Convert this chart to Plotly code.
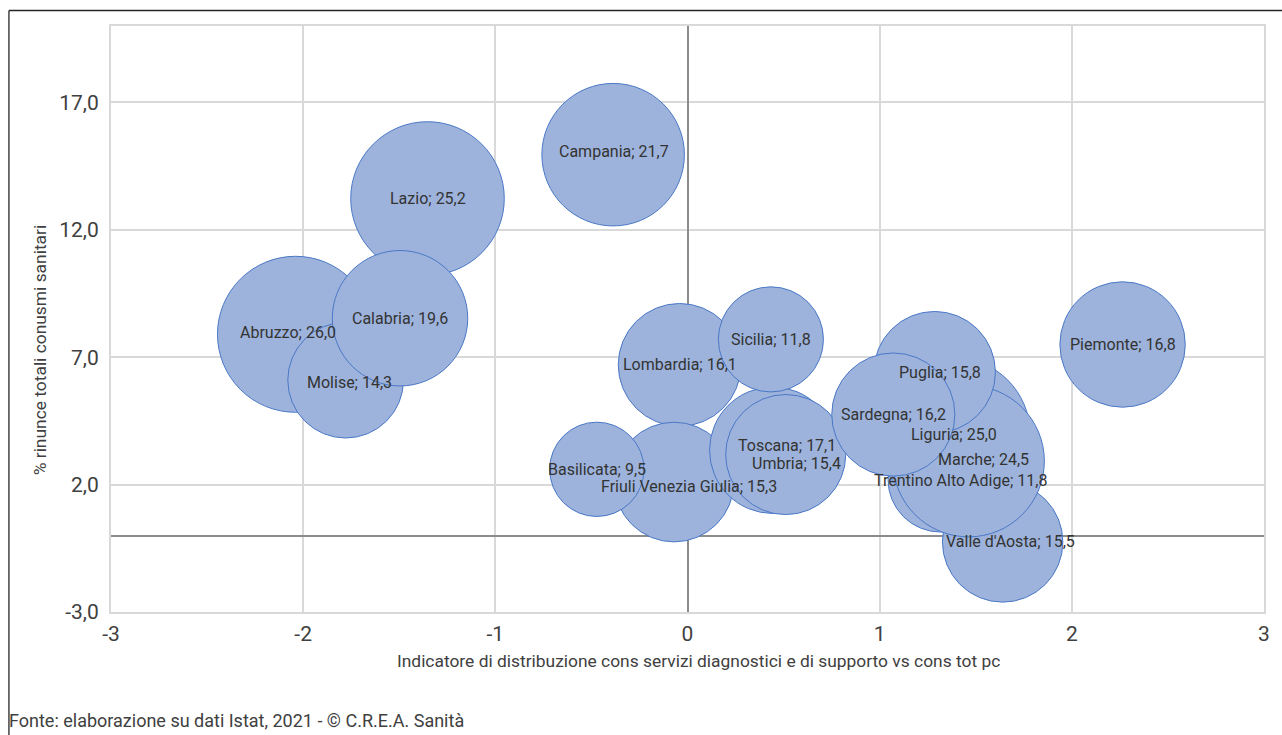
import plotly.graph_objects as go

# Regional data: distribution indicator (x), % renunciations (y), bubble size
regions = [
    "Piemonte", "Valle d'Aosta", "Lombardia", "Trentino Alto Adige",
    "Friuli Venezia Giulia", "Liguria", "Toscana", "Umbria", "Marche",
    "Lazio", "Abruzzo", "Molise", "Campania", "Puglia", "Basilicata",
    "Calabria", "Sicilia", "Sardegna",
]
indicatore = [2.264, 1.64, -0.041, 1.317, -0.07, 1.385, 0.444, 0.511, 1.463,
              -1.353, -2.04, -1.779, -0.387, 1.286, -0.472, -1.496, 0.434, 1.071]
rinunce = [7.50, -0.25, 6.70, 2.20, 2.10, 3.98, 3.35, 3.18, 2.92,
           13.23, 7.90, 6.10, 14.95, 6.41, 2.60, 8.53, 7.70, 4.75]
dimensione = [16.8, 15.5, 16.1, 11.8, 15.3, 25.0, 17.1, 15.4, 24.5,
              25.2, 26.0, 14.3, 21.7, 15.8, 9.5, 19.6, 11.8, 16.2]

x_ticks = [-3, -2, -1, 0, 1, 2, 3]
x_tick_text = ["-3", "-2", "-1", "0", "1", "2", "3"]
y_ticks = [-3, 2, 7, 12, 17]
y_tick_text = ["-3,0", "2,0", "7,0", "12,0", "17,0"]

# Label nudges (pixels) where labels sit off-centre
label_shift = {
    "Toscana": (14, 5), "Umbria": (11, -9), "Trentino Alto Adige": (20, -1),
    "Marche": (15, 2), "Friuli Venezia Giulia": (15, -4), "Abruzzo": (-7, 2),
    "Valle d'Aosta": (8, 0), "Puglia": (5, 0), "Campania": (1, 3),
    "Molise": (4, -2),
}

W, H = 1282, 735
M_L, M_R, M_T, M_B = 111, 13, 26, 123
MAX_DIAM = 156  # px diameter of the largest bubble

FONT = "Roboto, Liberation Sans, sans-serif"
TXT = "#333333"
AX = "#404040"

fig = go.Figure()
fig.add_trace(go.Scatter(
    x=indicatore, y=rinunce, mode="markers",
    marker=dict(
        size=dimensione, sizemode="area",
        sizeref=2.0 * max(dimensione) / MAX_DIAM ** 2,
        color="#9db3dc", opacity=1,
        line=dict(color="#4a78c6", width=1),
    ),
    hoverinfo="skip", showlegend=False,
))

for name, xv, yv, sv in zip(regions, indicatore, rinunce, dimensione):
    dx, dy = label_shift.get(name, (0, 0))
    fig.add_annotation(
        x=xv, y=yv, xref="x", yref="y",
        text=f"{name}; {sv:.1f}".replace(".", ","),
        showarrow=False, xanchor="center", yanchor="middle",
        xshift=dx, yshift=dy, borderpad=0,
        font=dict(family=FONT, size=16, color=TXT),
    )

pw = W - M_L - M_R
ph = H - M_T - M_B


def px_x(p):
    return (p - M_L) / pw


def px_y(p):
    return (H - M_B - p) / ph


# Axis titles and source note
fig.add_annotation(
    x=px_x(701), y=px_y(661), xref="paper", yref="paper",
    text="Indicatore di distribuzione cons servizi diagnostici e di supporto vs cons tot pc",
    showarrow=False, xanchor="center", yanchor="middle",
    font=dict(family=FONT, size=17.4, color=AX),
)
fig.add_annotation(
    x=px_x(40), y=px_y(350), xref="paper", yref="paper",
    text="% rinunce totali conusmi sanitari", textangle=-90,
    showarrow=False, xanchor="center", yanchor="middle",
    font=dict(family=FONT, size=17.4, color=AX),
)
fig.add_annotation(
    x=px_x(7), y=px_y(720), xref="paper", yref="paper",
    text="Fonte: elaborazione su dati Istat, 2021 - © C.R.E.A. Sanità",
    showarrow=False, xanchor="left", yanchor="middle",
    font=dict(family=FONT, size=18, color=AX),
)

# Outer frame (left and top edges)
fig.add_shape(type="line", xref="paper", yref="paper",
              x0=px_x(8.5), x1=px_x(8.5), y0=px_y(10.5), y1=px_y(740),
              line=dict(color="#262626", width=1.3))
fig.add_shape(type="line", xref="paper", yref="paper",
              x0=px_x(8.5), x1=px_x(1290), y0=px_y(10.5), y1=px_y(10.5),
              line=dict(color="#262626", width=1.3))

fig.update_xaxes(
    range=[-3, 3], tickvals=x_ticks, ticktext=x_tick_text,
    showgrid=True, gridcolor="#d9d9d9", gridwidth=2,
    zeroline=True, zerolinecolor="#8c8c8c", zerolinewidth=2,
    showline=True, linecolor="#d9d9d9", linewidth=2, mirror=True,
    ticks="", tickfont=dict(family=FONT, size=21, color=AX),
    ticklabelstandoff=2,
)
fig.update_yaxes(
    range=[-3, 20], tickvals=y_ticks, ticktext=y_tick_text,
    showgrid=True, gridcolor="#d9d9d9", gridwidth=2,
    zeroline=True, zerolinecolor="#8c8c8c", zerolinewidth=2,
    showline=True, linecolor="#d9d9d9", linewidth=2, mirror=True,
    ticks="", tickfont=dict(family=FONT, size=21, color=AX),
    ticklabelstandoff=6,
)
fig.update_layout(
    width=W, height=H, autosize=False,
    margin=dict(l=M_L, r=M_R, t=M_T, b=M_B),
    paper_bgcolor="white", plot_bgcolor="white",
    showlegend=False,
)

fig.write_html("out.html")
